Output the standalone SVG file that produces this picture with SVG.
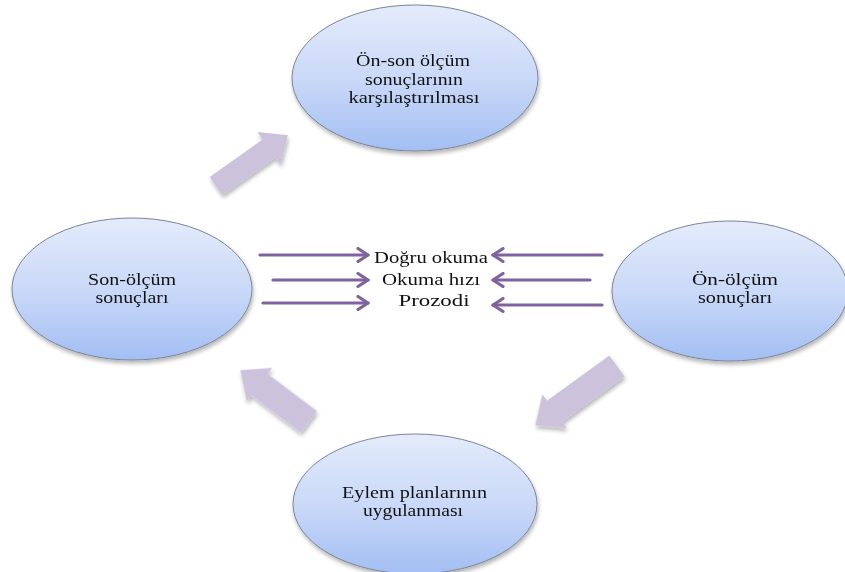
<svg xmlns="http://www.w3.org/2000/svg" width="845" height="572" viewBox="0 0 845 572">
<defs>
<linearGradient id="g" x1="0" y1="0" x2="0" y2="1">
<stop offset="0" stop-color="#E4EBFB"/>
<stop offset="0.5" stop-color="#CAD9F8"/>
<stop offset="1" stop-color="#A3BEF3"/>
</linearGradient>
<filter id="sh" x="-20%" y="-20%" width="140%" height="140%">
<feGaussianBlur in="SourceAlpha" stdDeviation="2"/>
<feOffset dx="1" dy="3" result="b"/>
<feComponentTransfer><feFuncA type="linear" slope="0.3"/></feComponentTransfer>
<feMerge><feMergeNode/><feMergeNode in="SourceGraphic"/></feMerge>
</filter>
<marker id="ah" viewBox="0 0 14 16" refX="12" refY="8" markerWidth="14" markerHeight="16" markerUnits="userSpaceOnUse" orient="auto">
<path d="M2,1.5 L12,8 L2,14.5" fill="none" stroke="#7E63A0" stroke-width="3.2" stroke-linecap="round" stroke-linejoin="round"/>
</marker>
</defs>
<rect width="845" height="572" fill="#fff"/>
<g id="connectors">
<g fill="#CCC2DB" filter="url(#sh)">
<polygon points="0,-11 65,-11 65,-20 88,0 65,20 65,11 0,11" transform="translate(216,186) rotate(-35.3)"/>
<polygon points="0,-13 77,-13 77,-21 101,0 77,21 77,13 0,13" transform="translate(617,366) rotate(144)"/>
<polygon points="0,-13.5 62,-13.5 62,-21 86,0 62,21 62,13.5 0,13.5" transform="translate(309,422) rotate(217)"/>
</g>
<g stroke="#7E63A0" stroke-width="3.2" fill="none" marker-end="url(#ah)" stroke-linecap="round">
<line x1="260" y1="255" x2="368" y2="255"/>
<line x1="273" y1="280" x2="368" y2="280"/>
<line x1="263" y1="303" x2="368" y2="303"/>
<line x1="602" y1="255" x2="493" y2="255"/>
<line x1="590" y1="280" x2="493" y2="280"/>
<line x1="602" y1="305" x2="493" y2="305"/>
</g>
</g>
<g id="n-top">
<ellipse cx="415" cy="78" rx="123" ry="73" fill="url(#g)" stroke="#7C8697" stroke-width="1" filter="url(#sh)"/>
<text font-family="Liberation Serif" font-size="17" fill="#111" text-anchor="middle" x="413" y="66" textLength="114" lengthAdjust="spacingAndGlyphs">Ön-son ölçüm</text>
<text font-family="Liberation Serif" font-size="17" fill="#111" text-anchor="middle" x="414" y="84.5" textLength="98" lengthAdjust="spacingAndGlyphs">sonuçlarının</text>
<text font-family="Liberation Serif" font-size="17" fill="#111" text-anchor="middle" x="414" y="102.5" textLength="131" lengthAdjust="spacingAndGlyphs">karşılaştırılması</text>
</g>
<g id="n-left">
<ellipse cx="132" cy="289" rx="120" ry="71" fill="url(#g)" stroke="#7C8697" stroke-width="1" filter="url(#sh)"/>
<text font-family="Liberation Serif" font-size="17" fill="#111" text-anchor="middle" x="132" y="285" textLength="88" lengthAdjust="spacingAndGlyphs">Son-ölçüm</text>
<text font-family="Liberation Serif" font-size="17" fill="#111" text-anchor="middle" x="132" y="303" textLength="73" lengthAdjust="spacingAndGlyphs">sonuçları</text>
</g>
<g id="n-right">
<ellipse cx="730" cy="291" rx="118" ry="70" fill="url(#g)" stroke="#7C8697" stroke-width="1" filter="url(#sh)"/>
<text font-family="Liberation Serif" font-size="17" fill="#111" text-anchor="middle" x="735" y="285" textLength="86" lengthAdjust="spacingAndGlyphs">Ön-ölçüm</text>
<text font-family="Liberation Serif" font-size="17" fill="#111" text-anchor="middle" x="735" y="303" textLength="74" lengthAdjust="spacingAndGlyphs">sonuçları</text>
</g>
<g id="n-bottom">
<ellipse cx="415" cy="504" rx="122" ry="70" fill="url(#g)" stroke="#7C8697" stroke-width="1" filter="url(#sh)"/>
<text font-family="Liberation Serif" font-size="17" fill="#111" text-anchor="middle" x="414.5" y="498" textLength="145" lengthAdjust="spacingAndGlyphs">Eylem planlarının</text>
<text font-family="Liberation Serif" font-size="17" fill="#111" text-anchor="middle" x="413" y="515.5" textLength="100" lengthAdjust="spacingAndGlyphs">uygulanması</text>
</g>
<g id="n-center">
<text font-family="Liberation Serif" font-size="17" fill="#111" text-anchor="middle" x="431" y="262.5" textLength="114" lengthAdjust="spacingAndGlyphs">Doğru okuma</text>
<text font-family="Liberation Serif" font-size="17" fill="#111" text-anchor="middle" x="431" y="284.5" textLength="98" lengthAdjust="spacingAndGlyphs">Okuma hızı</text>
<text font-family="Liberation Serif" font-size="17" fill="#111" text-anchor="middle" x="434" y="305.5" textLength="71" lengthAdjust="spacingAndGlyphs">Prozodi</text>
</g>
</svg>
